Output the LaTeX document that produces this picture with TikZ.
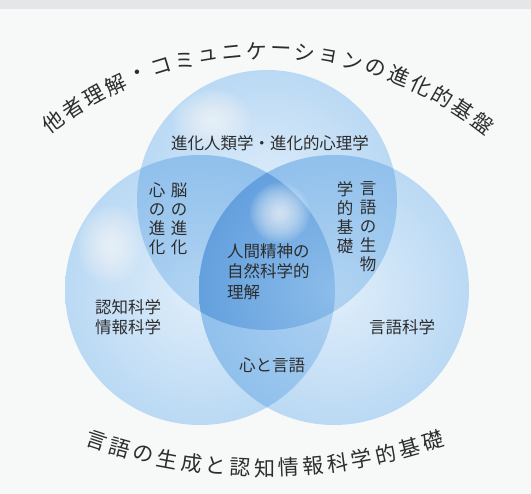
\documentclass[tikz,border=0pt]{standalone}
\usepackage{fontspec}
\newfontfamily\jp{Noto Sans CJK JP}
\definecolor{bg}{RGB}{247,249,249}
\definecolor{band}{RGB}{228,230,232}
\definecolor{txt}{RGB}{45,45,45}
\definecolor{cA}{RGB}{186,217,244}
\definecolor{cAin}{RGB}{224,238,250}
\definecolor{cB}{RGB}{144,192,236}
\definecolor{cBin}{RGB}{176,211,242}
\definecolor{cC}{RGB}{100,160,222}
\definecolor{cCin}{RGB}{140,189,234}
\begin{document}
\begin{tikzpicture}[x=1pt,y=-1pt,
  lbl/.style={font=\jp\fontsize{16.5}{20.5}\selectfont, text=txt, inner sep=0pt},
  vlbl/.style={font=\jp\fontsize{16.5}{19}\selectfont, text=txt, inner sep=0pt, align=center},
  ttl/.style={font=\jp\fontsize{21}{21}\selectfont, text=txt, inner sep=0pt},
  ttlb/.style={font=\jp\fontsize{21}{21}\selectfont, text=txt, inner sep=0pt},
  single/.style={inner color=cAin, outer color=cA},
  double/.style={inner color=cBin, outer color=cB},
  triple/.style={inner color=cCin, outer color=cC}]
\useasboundingbox (0,0) rectangle (531,494);
\fill[bg] (0,0) rectangle (531,494);
\fill[band] (0,0) rectangle (531,9);
\coordinate (T) at (267,200);
\coordinate (L) at (200,290);
\coordinate (R) at (334,290);
% single circles
\shade[single] (T) circle[radius=130];
\shade[single] (L) circle[radius=135];
\shade[single] (R) circle[radius=135];
% pairwise overlaps
\begin{scope}
  \clip (T) circle[radius=130];
  \shade[double] (L) circle[radius=135];
\end{scope}
\begin{scope}
  \clip (T) circle[radius=130];
  \shade[double] (R) circle[radius=135];
\end{scope}
\begin{scope}
  \clip (L) circle[radius=135];
  \shade[double] (R) circle[radius=135];
\end{scope}
% triple overlap
\begin{scope}
  \clip (T) circle[radius=130];
  \clip (L) circle[radius=135];
  \shade[triple] (R) circle[radius=135];
\end{scope}
% highlights
\foreach \r in {36,34,...,4} {
  \fill[white, fill opacity=0.06] (212,120) ellipse[x radius=\r*1.1, y radius=\r*0.85];
  \fill[white, fill opacity=0.06] (110,245) ellipse[x radius=\r*0.9, y radius=\r*1.1];
}
\foreach \r in {30,28,...,2} {
  \fill[white, fill opacity=0.08] (280,213) circle[radius=\r];
}
% labels
\node[lbl] (evo) at (270,143) {進化人類学・進化的心理学};
\node[vlbl] (brain) at (179,219) {脳\\の\\進\\化};
\node[vlbl] (mind) at (157,219) {心\\の\\進\\化};
\node[vlbl] (bio1) at (368,227) {言\\語\\の\\生\\物};
\node[vlbl] (bio2) at (345,218) {学\\的\\基\\礎};
\node[lbl, align=left, anchor=west] (core) at (227,271.5) {人間精神の\\自然科学的\\理解};
\node[lbl, align=left, anchor=west] (cog) at (95,317) {認知科学\\情報科学};
\node[lbl] (ling) at (402,327) {言語科学};
\node[lbl] (ml) at (272,365) {心と言語};
% top arc title
\foreach \ch [count=\i from 0] in {他,者,理,解,・,コ,ミ,ュ,ニ,ケ,ー,シ,ョ,ン,の,進,化,的,基,盤} {
  \pgfmathsetmacro{\ang}{126.6-\i*3.88}
  \node[ttl, rotate=\ang-90] (t\i) at ({267+358*cos(\ang)},{409-358*sin(\ang)}) {\ch};
}
% bottom arc title
\foreach \ch [count=\i from 0] in {言,語,の,生,成,と,認,知,情,報,科,学,的,基,礎} {
  \pgfmathsetmacro{\ang}{-108.3+\i*2.61}
  \node[ttlb, rotate=\ang+90] (b\i) at ({265+536*cos(\ang)},{-68-536*sin(\ang)}) {\ch};
}
\end{tikzpicture}
\end{document}
